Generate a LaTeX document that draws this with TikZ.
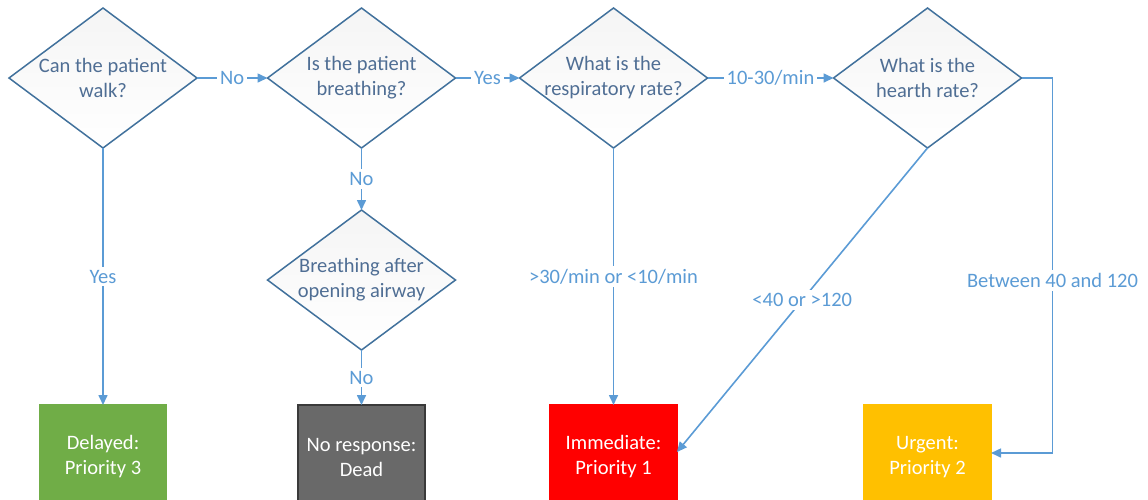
\documentclass[tikz,border=0pt]{standalone}
\usepackage{fontspec}
\setmainfont{Carlito}
\usepackage{tikz}
\usetikzlibrary{arrows.meta,positioning,shapes.geometric}
\definecolor{tline}{HTML}{5B9BD5}
\definecolor{tedge}{HTML}{41719C}
\definecolor{ttext}{HTML}{4F6E94}
\definecolor{tgreen}{HTML}{70AD47}
\definecolor{tgrey}{HTML}{696969}
\definecolor{tdark}{HTML}{3A3A3A}
\definecolor{tred}{HTML}{FF0000}
\definecolor{tamber}{HTML}{FFC000}

\begin{document}
\begin{tikzpicture}[x=1pt,y=-1pt,font=\fontsize{20.5}{25}\selectfont,
  >={Triangle[length=10pt,width=9pt]},
  ask/.style={diamond,draw=tedge,line width=1.5pt,top color=black!4,bottom color=white,
              minimum width=188pt,minimum height=140pt,inner sep=-30pt,outer sep=0pt,
              align=center,text=ttext},
  verdict/.style={rectangle,minimum width=127pt,minimum height=104pt,inner sep=0pt,
                  outer sep=0pt,align=center,text=white,line width=1.5pt},
  link/.style={->,draw=tline,line width=1.6pt},
  lbl/.style={fill=white,text=tline,inner sep=3pt}]
\useasboundingbox (0,0) rectangle (1148,499);

\node[ask] (d1) at (103,78) {Can the patient\\walk?};
\node[ask,right=70.5pt of d1] (d2) {Is the patient\\breathing?};
\node[ask,right=64pt of d2] (d3) {What is the\\respiratory rate?};
\node[ask,right=126pt of d3] (d4) {What is the\\hearth rate?};
\node[ask,below=62pt of d2] (d5) {Breathing after\\opening airway};

\node[verdict,fill=tgreen,draw=tgreen,below=257pt of d1] (b1) {Delayed:\\Priority 3};
\node[verdict,fill=tgrey,draw=tdark,below=55pt of d5] (b2) {No response:\\Dead};
\node[verdict,fill=tred,draw=tred,below=257pt of d3] (b3) {Immediate:\\Priority 1};
\node[verdict,fill=tamber,draw=tamber,below=257pt of d4] (b4) {Urgent:\\Priority 2};

\foreach \a/\b/\t in {d1/d2/No,d2/d3/Yes,d1/b1/Yes,d2/d5/No,d5/b2/No}
  \draw[link] (\a) -- node[lbl] {\t} (\b);
\draw[link] (d3) -- node[lbl] {10-30/min} (d4);
\draw[link] (d3) -- node[lbl] {>30/min or <10/min} (b3);
\draw[link] (d4.south) -- node[lbl] {<40 or >120} ([yshift=5pt]b3.east);
\coordinate (bend) at ([xshift=31pt]d4.east);
\draw[link] (d4.east) -- (bend) |- node[lbl,pos=0.27] {Between 40 and 120} ([yshift=4pt]b4.east);
\end{tikzpicture}
\end{document}
